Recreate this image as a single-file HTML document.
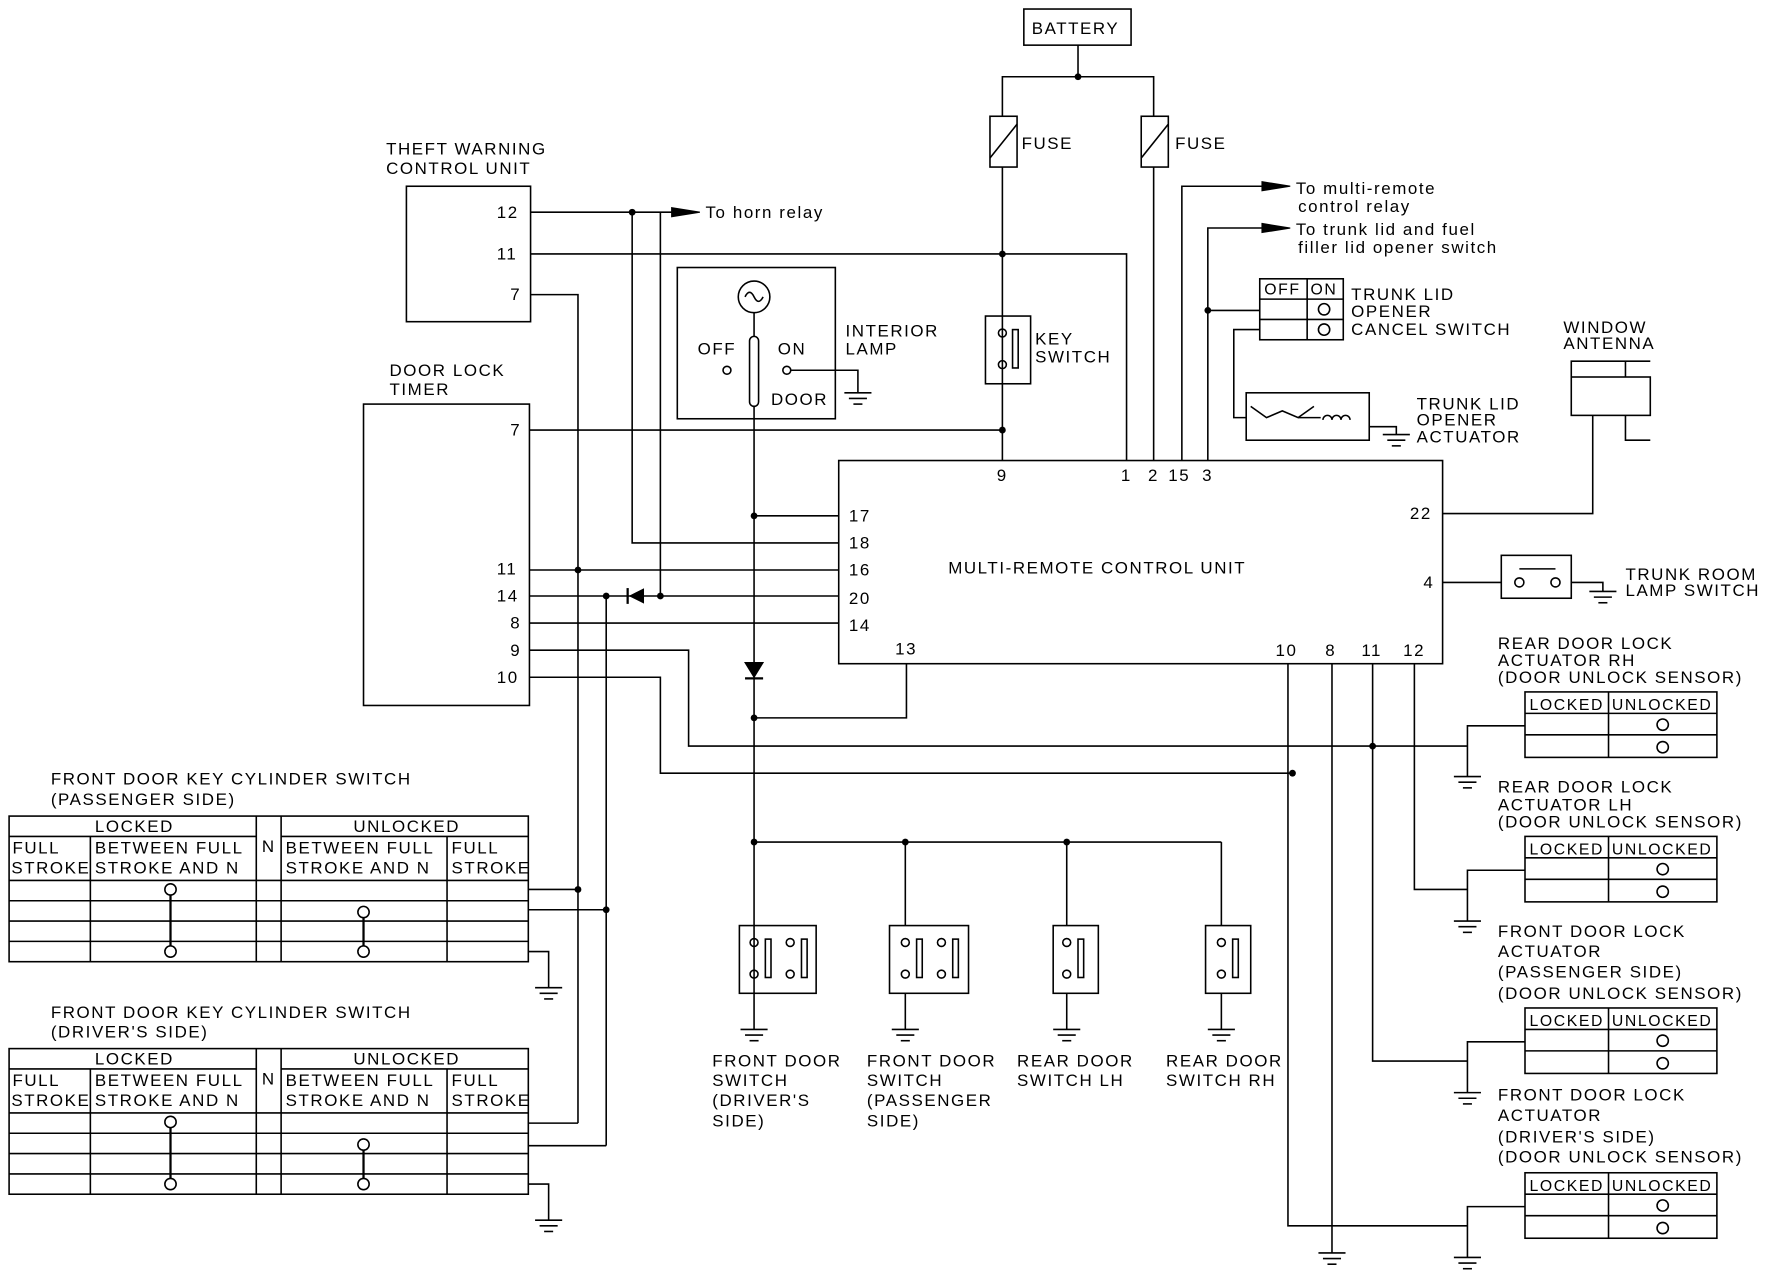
<!DOCTYPE html>
<html><head><meta charset="utf-8"><style>
html,body{margin:0;padding:0;background:#fff}
svg{display:block}
text{font-family:"Liberation Sans",sans-serif;font-size:15px;fill:#000;letter-spacing:1.4px}
.s{font-size:14px}
</style></head><body>
<svg width="1770" height="1280" viewBox="0 0 1568 1134" xmlns="http://www.w3.org/2000/svg">
<defs>
<g id="gnd"><line x1="-12" y1="0" x2="12" y2="0"/><line x1="-8" y1="5" x2="8" y2="5"/><line x1="-4" y1="10" x2="4" y2="10"/></g>
</defs>
<g stroke="#000" stroke-width="1.4" fill="none">
<!-- battery -->
<rect x="907" y="8" width="95" height="32"/>
<polyline points="955,40 955,68"/>
<polyline points="888,408 888,68 1022,68 1022,408"/>
<rect x="877" y="103" width="24" height="45" fill="#fff"/><line x1="877" y1="140" x2="901" y2="110"/>
<rect x="1011" y="103" width="24" height="45" fill="#fff"/><line x1="1011" y1="140" x2="1035" y2="110"/>
<!-- theft unit -->
<rect x="360" y="165" width="110" height="120"/>
<line x1="470" y1="188" x2="600" y2="188"/>
<polyline points="560,188 560,481 743,481"/>
<line x1="585" y1="188" x2="585" y2="528"/>
<polyline points="470,225 998,225 998,408"/>
<polyline points="470,261 512,261 512,788"/>
<!-- door lock timer -->
<rect x="322" y="358" width="147" height="267"/>
<line x1="469" y1="381" x2="888" y2="381"/>
<line x1="469" y1="505" x2="743" y2="505"/>
<line x1="469" y1="528" x2="743" y2="528"/>
<line x1="537" y1="528" x2="537" y2="1015"/>
<line x1="469" y1="552" x2="743" y2="552"/>
<polyline points="469,576 610,576 610,661 1300,661"/>
<polyline points="469,600 585,600 585,685 1145,685"/>
<!-- MRCU -->
<rect x="743" y="408" width="535" height="180"/>
<line x1="668" y1="457" x2="743" y2="457"/>
<polyline points="803,588 803,636 668,636"/>
<!-- interior lamp -->
<rect x="600" y="237" width="140" height="134"/>
<circle cx="668" cy="263" r="14"/><path d="M660,263 q4,-8 8,0 q4,8 8,0"/>
<line x1="668" y1="277" x2="668" y2="298"/>
<rect x="664" y="298" width="8" height="62" rx="4"/>
<circle cx="644" cy="328" r="3.5"/><circle cx="697" cy="328" r="3.5"/>
<polyline points="700,328 760,328 760,348"/>
<use href="#gnd" x="760" y="348"/>
<line x1="668" y1="360" x2="668" y2="880"/>
<polyline points="668,746 1082,746"/>
<line x1="802" y1="746" x2="802" y2="820"/><line x1="945" y1="746" x2="945" y2="820"/><line x1="1082" y1="746" x2="1082" y2="820"/>
<!-- key switch -->
<rect x="873" y="280" width="40" height="60"/>
<circle cx="888" cy="295" r="3.5"/><circle cx="888" cy="323" r="3.5"/><rect x="897" y="292" width="5" height="34"/>
<!-- top right lines -->
<polyline points="1047,408 1047,165 1125,165"/>
<polyline points="1070,408 1070,202 1125,202"/>
<line x1="1070" y1="275" x2="1116" y2="275"/>
<rect x="1116" y="247" width="74" height="54"/>
<line x1="1158" y1="247" x2="1158" y2="301"/><line x1="1116" y1="265" x2="1190" y2="265"/><line x1="1116" y1="283" x2="1190" y2="283"/>
<circle cx="1173" cy="274" r="5"/><circle cx="1173" cy="292" r="5"/>
<polyline points="1116,292 1093,292 1093,370 1104,370"/>
<rect x="1104" y="348" width="109" height="42"/>
<path d="M1108,360 l14,10 l14,-6 l14,6 l14,-10"/><line x1="1150" y1="370" x2="1170" y2="370"/>
<path d="M1172,372 a4,4 0 1 1 8,0 a4,4 0 1 1 8,0 a4,4 0 1 1 8,0"/>
<polyline points="1213,378 1237,378 1237,385"/><use href="#gnd" x="1237" y="385"/>
<!-- antenna -->
<polyline points="1278,455 1411,455 1411,368"/>
<rect x="1392" y="334" width="70" height="34"/>
<polyline points="1392,334 1392,320 1462,320"/><polyline points="1440,334 1440,320"/>
<polyline points="1440,368 1440,390 1462,390"/>
<!-- trunk room lamp -->
<line x1="1278" y1="516" x2="1330" y2="516"/>
<rect x="1330" y="492" width="62" height="38"/>
<circle cx="1346" cy="516" r="4"/><circle cx="1378" cy="516" r="4"/><line x1="1346" y1="504" x2="1378" y2="504"/>
<polyline points="1392,516 1420,516 1420,524"/><use href="#gnd" x="1420" y="524"/>
<!-- bottom pins -->
<polyline points="1141,588 1141,1086 1300,1086"/>
<line x1="1180" y1="588" x2="1180" y2="1110"/><use href="#gnd" x="1180" y="1110"/>
<polyline points="1216,588 1216,940 1300,940"/>
<polyline points="1253,588 1253,788 1300,788"/>
<!-- sensors -->
<g id="sens">
<rect x="1351" y="613" width="170" height="58"/>
<line x1="1425" y1="613" x2="1425" y2="671"/><line x1="1351" y1="632" x2="1521" y2="632"/><line x1="1351" y1="651" x2="1521" y2="651"/>
<circle cx="1473" cy="642" r="5"/><circle cx="1473" cy="662" r="5"/>
<polyline points="1351,643 1300,643 1300,688"/>
<use href="#gnd" x="1300" y="688"/>
</g>
<use href="#sens" y="128"/><use href="#sens" y="280"/><use href="#sens" y="426"/>
<!-- door switches -->
<rect x="655" y="820" width="68" height="60"/>
<circle cx="668" cy="835" r="3.5"/><circle cx="668" cy="863" r="3.5"/><rect x="678" y="832" width="5" height="34"/>
<circle cx="700" cy="835" r="3.5"/><circle cx="700" cy="863" r="3.5"/><rect x="710" y="832" width="5" height="34"/>
<rect x="788" y="820" width="70" height="60"/>
<circle cx="802" cy="835" r="3.5"/><circle cx="802" cy="863" r="3.5"/><rect x="812" y="832" width="5" height="34"/>
<circle cx="834" cy="835" r="3.5"/><circle cx="834" cy="863" r="3.5"/><rect x="844" y="832" width="5" height="34"/>
<rect x="933" y="820" width="40" height="60"/>
<circle cx="945" cy="835" r="3.5"/><circle cx="945" cy="863" r="3.5"/><rect x="955" y="832" width="5" height="34"/>
<rect x="1068" y="820" width="40" height="60"/>
<circle cx="1082" cy="835" r="3.5"/><circle cx="1082" cy="863" r="3.5"/><rect x="1092" y="832" width="5" height="34"/>
<line x1="668" y1="880" x2="668" y2="912"/><use href="#gnd" x="668" y="912"/>
<line x1="802" y1="880" x2="802" y2="912"/><use href="#gnd" x="802" y="912"/>
<line x1="945" y1="880" x2="945" y2="912"/><use href="#gnd" x="945" y="912"/>
<line x1="1082" y1="880" x2="1082" y2="912"/><use href="#gnd" x="1082" y="912"/>
<!-- key cylinder tables -->
<g id="kc">
<rect x="8" y="723" width="460" height="129"/>
<line x1="8" y1="741" x2="227" y2="741"/><line x1="249" y1="741" x2="468" y2="741"/>
<line x1="80" y1="741" x2="80" y2="852"/><line x1="227" y1="723" x2="227" y2="852"/><line x1="249" y1="723" x2="249" y2="852"/><line x1="396" y1="741" x2="396" y2="852"/>
<line x1="8" y1="780" x2="468" y2="780"/><line x1="8" y1="798" x2="468" y2="798"/><line x1="8" y1="816" x2="468" y2="816"/><line x1="8" y1="834" x2="468" y2="834"/>
<circle cx="151" cy="788" r="5"/><circle cx="151" cy="843" r="5"/><line x1="151" y1="793" x2="151" y2="838" stroke-width="2"/>
<circle cx="322" cy="808" r="5"/><circle cx="322" cy="843" r="5"/><line x1="322" y1="813" x2="322" y2="838" stroke-width="2"/>
<polyline points="468,843 486,843 486,875"/><use href="#gnd" x="486" y="875"/>
</g>
<use href="#kc" y="206"/>
<line x1="468" y1="788" x2="512" y2="788"/><line x1="468" y1="806" x2="537" y2="806"/>
<line x1="468" y1="995" x2="512" y2="995"/><line x1="512" y1="788" x2="512" y2="995"/>
<line x1="468" y1="1015" x2="537" y2="1015"/>
</g>
<!-- arrows, diodes, dots -->
<g fill="#000" stroke="#000">
<polygon points="595,184 620,188 595,192"/>
<polygon points="1118,161 1143,165 1118,169"/>
<polygon points="1118,198 1143,202 1118,206"/>
<polygon points="570,522 570,534 558,528"/><line x1="556" y1="521" x2="556" y2="535" stroke-width="2"/>
<polygon points="660,587 676,587 668,600"/><line x1="660" y1="601" x2="676" y2="601" stroke-width="2"/>
<g stroke="none">
<circle cx="955" cy="68" r="3"/><circle cx="888" cy="225" r="3"/><circle cx="888" cy="381" r="3"/>
<circle cx="560" cy="188" r="3"/><circle cx="512" cy="505" r="3"/><circle cx="537" cy="528" r="3"/><circle cx="585" cy="528" r="3"/>
<circle cx="668" cy="457" r="3"/><circle cx="668" cy="636" r="3"/><circle cx="668" cy="746" r="3"/><circle cx="802" cy="746" r="3"/><circle cx="945" cy="746" r="3"/>
<circle cx="1070" cy="275" r="3"/><circle cx="1216" cy="661" r="3"/><circle cx="1145" cy="685" r="3"/>
<circle cx="512" cy="788" r="3"/><circle cx="537" cy="806" r="3"/>
</g></g>
<!-- text -->
<text x="914" y="30">BATTERY</text>
<text x="905" y="132">FUSE</text><text x="1041" y="132">FUSE</text>
<text x="342" y="137">THEFT WARNING</text><text x="342" y="154">CONTROL UNIT</text>
<text x="440" y="193">12</text><text x="440" y="230">11</text><text x="452" y="266">7</text>
<text x="625" y="193">To horn relay</text>
<text x="1148" y="172">To multi-remote</text><text x="1150" y="188">control relay</text>
<text x="1148" y="208">To trunk lid and fuel</text><text x="1150" y="224">filler lid opener switch</text>
<text x="1120" y="261" class="s">OFF</text><text x="1161" y="261" class="s">ON</text>
<text x="1197" y="266">TRUNK LID</text><text x="1197" y="281">OPENER</text><text x="1197" y="297">CANCEL SWITCH</text>
<text x="1255" y="363">TRUNK LID</text><text x="1255" y="377">OPENER</text><text x="1255" y="392">ACTUATOR</text>
<text x="1385" y="295">WINDOW</text><text x="1385" y="309">ANTENNA</text>
<text x="749" y="298">INTERIOR</text><text x="749" y="314">LAMP</text>
<text x="618" y="314">OFF</text><text x="689" y="314">ON</text><text x="683" y="359">DOOR</text>
<text x="917" y="305">KEY</text><text x="917" y="321">SWITCH</text>
<text x="345" y="333">DOOR LOCK</text><text x="345" y="350">TIMER</text>
<text x="452" y="386">7</text><text x="440" y="509">11</text><text x="440" y="533">14</text><text x="452" y="557">8</text><text x="452" y="581">9</text><text x="440" y="605">10</text>
<text x="883" y="426">9</text><text x="993" y="426">1</text><text x="1017" y="426">2</text><text x="1035" y="426">15</text><text x="1065" y="426">3</text>
<text x="752" y="462">17</text><text x="752" y="486">18</text><text x="752" y="510">16</text><text x="752" y="535">20</text><text x="752" y="559">14</text>
<text x="840" y="508">MULTI-REMOTE CONTROL UNIT</text>
<text x="1249" y="460">22</text><text x="1261" y="521">4</text>
<text x="793" y="580">13</text><text x="1130" y="581">10</text><text x="1174" y="581">8</text><text x="1206" y="581">11</text><text x="1243" y="581">12</text>
<text x="1440" y="514">TRUNK ROOM</text><text x="1440" y="528">LAMP SWITCH</text>
<text x="1327" y="575">REAR DOOR LOCK</text><text x="1327" y="590">ACTUATOR RH</text><text x="1327" y="605">(DOOR UNLOCK SENSOR)</text>
<text x="1327" y="702">REAR DOOR LOCK</text><text x="1327" y="718">ACTUATOR LH</text><text x="1327" y="733">(DOOR UNLOCK SENSOR)</text>
<text x="1327" y="830">FRONT DOOR LOCK</text><text x="1327" y="848">ACTUATOR</text><text x="1327" y="866">(PASSENGER SIDE)</text><text x="1327" y="885">(DOOR UNLOCK SENSOR)</text>
<text x="1327" y="975">FRONT DOOR LOCK</text><text x="1327" y="993">ACTUATOR</text><text x="1327" y="1012">(DRIVER'S SIDE)</text><text x="1327" y="1030">(DOOR UNLOCK SENSOR)</text>
<g class="s">
<text x="1355" y="629" class="s">LOCKED</text><text x="1428" y="629" class="s">UNLOCKED</text>
<text x="1355" y="757" class="s">LOCKED</text><text x="1428" y="757" class="s">UNLOCKED</text>
<text x="1355" y="909" class="s">LOCKED</text><text x="1428" y="909" class="s">UNLOCKED</text>
<text x="1355" y="1055" class="s">LOCKED</text><text x="1428" y="1055" class="s">UNLOCKED</text>
</g>
<text x="631" y="945">FRONT DOOR</text><text x="631" y="962">SWITCH</text><text x="631" y="980">(DRIVER'S</text><text x="631" y="998">SIDE)</text>
<text x="768" y="945">FRONT DOOR</text><text x="768" y="962">SWITCH</text><text x="768" y="980">(PASSENGER</text><text x="768" y="998">SIDE)</text>
<text x="901" y="945">REAR DOOR</text><text x="901" y="962">SWITCH LH</text>
<text x="1033" y="945">REAR DOOR</text><text x="1033" y="962">SWITCH RH</text>
<text x="45" y="695">FRONT DOOR KEY CYLINDER SWITCH</text><text x="45" y="713">(PASSENGER SIDE)</text>
<text x="45" y="902">FRONT DOOR KEY CYLINDER SWITCH</text><text x="45" y="919">(DRIVER'S SIDE)</text>
<g>
<text x="84" y="737">LOCKED</text><text x="313" y="737">UNLOCKED</text><text x="232" y="755">N</text>
<text x="11" y="756">FULL</text><text x="10" y="774">STROKE</text><text x="84" y="756">BETWEEN FULL</text><text x="84" y="774">STROKE AND N</text>
<text x="253" y="756">BETWEEN FULL</text><text x="253" y="774">STROKE AND N</text><text x="400" y="756">FULL</text><text x="400" y="774">STROKE</text>
<text x="84" y="943">LOCKED</text><text x="313" y="943">UNLOCKED</text><text x="232" y="961">N</text>
<text x="11" y="962">FULL</text><text x="10" y="980">STROKE</text><text x="84" y="962">BETWEEN FULL</text><text x="84" y="980">STROKE AND N</text>
<text x="253" y="962">BETWEEN FULL</text><text x="253" y="980">STROKE AND N</text><text x="400" y="962">FULL</text><text x="400" y="980">STROKE</text>
</g>
</svg>
</body></html>
